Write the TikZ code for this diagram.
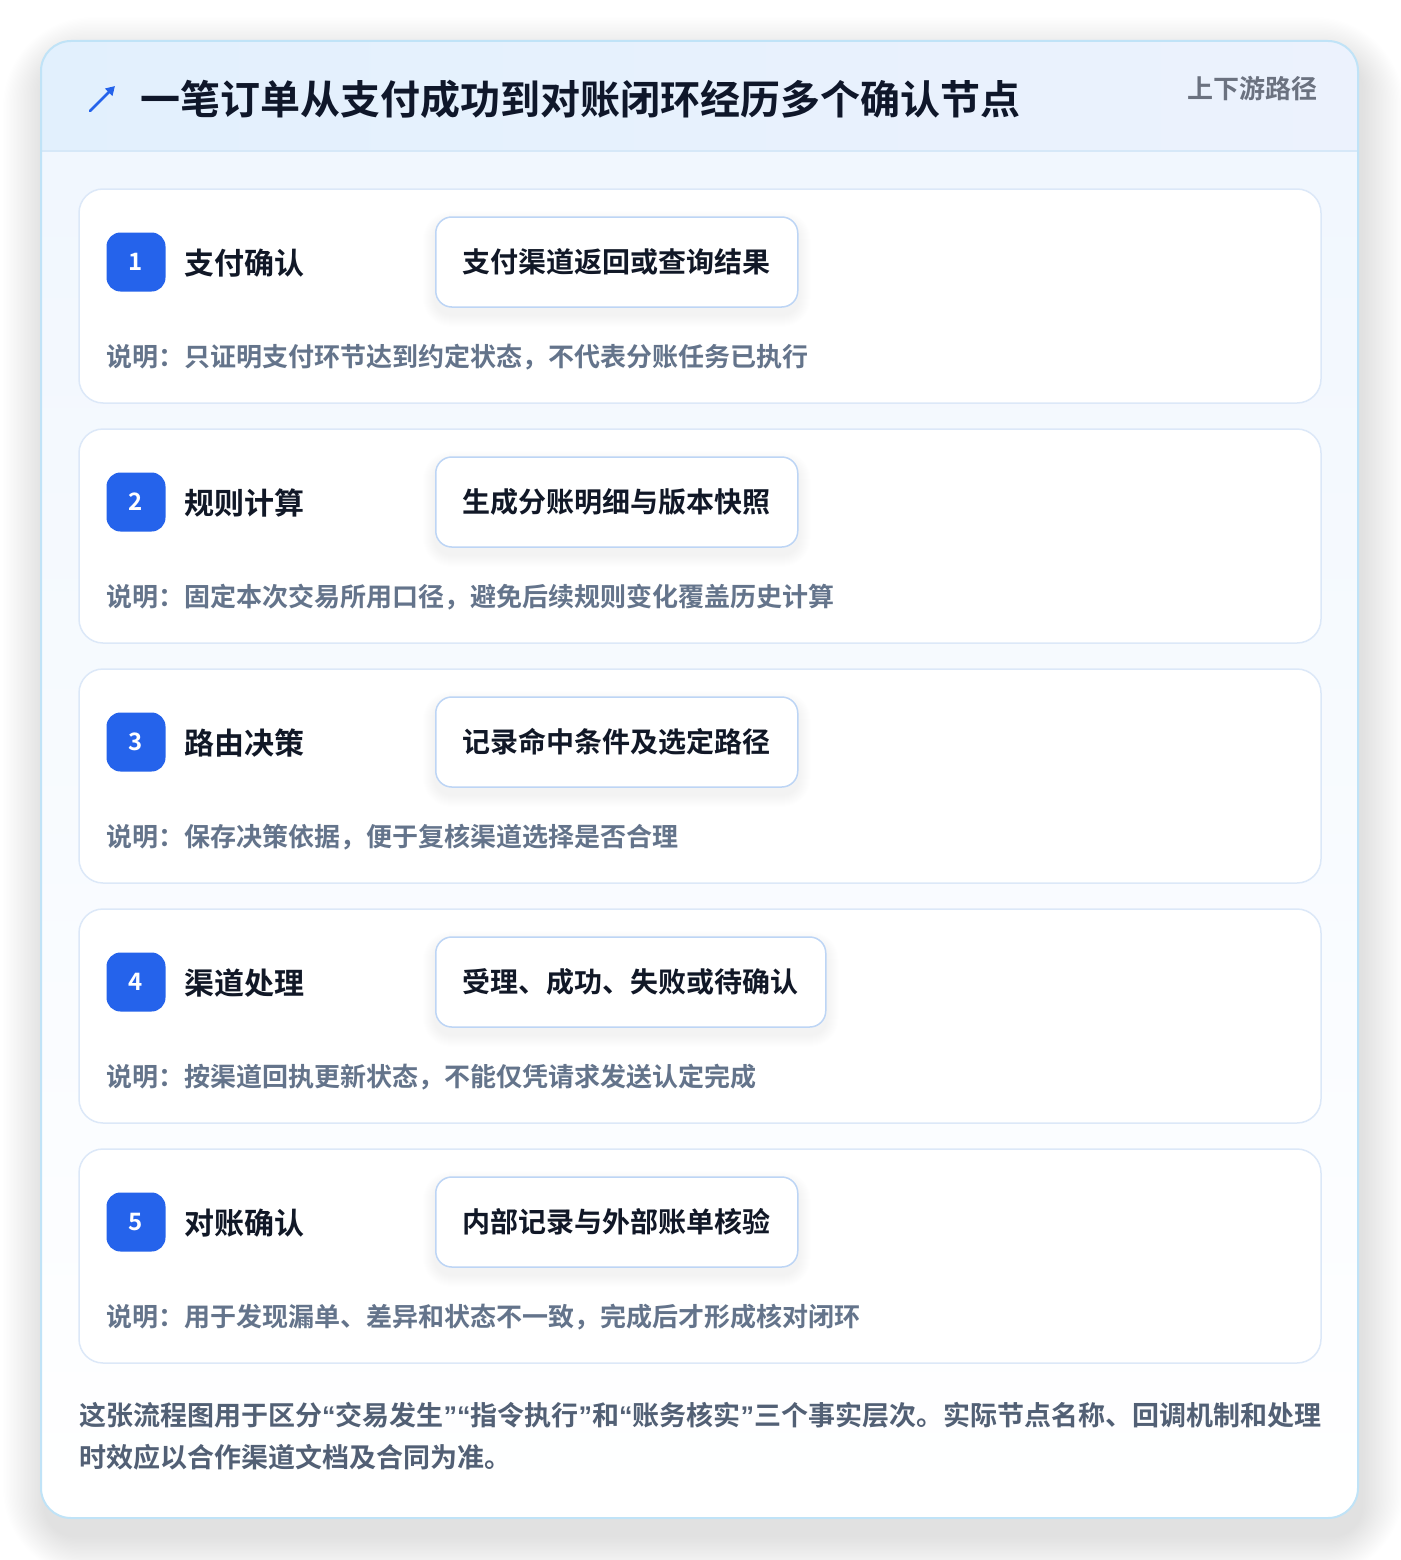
\documentclass[tikz,border=0pt]{standalone}
\usepackage{fontspec}
\usetikzlibrary{arrows.meta}
\newfontfamily\cjk{Noto Sans CJK SC Bold}
\newfontfamily\qf{Liberation Sans Bold}
\newcommand{\myLQ}{{\qf “}}
\newcommand{\myRQ}{{\qf ”}}
\definecolor{pagebg}{HTML}{FFFFFF}
\definecolor{cardline}{HTML}{C0E3F7}
\definecolor{headl}{HTML}{E2F0FD}
\definecolor{headr}{HTML}{ECF2FD}
\definecolor{headline}{HTML}{D6E8F8}
\definecolor{bodytop}{HTML}{F1F7FE}
\definecolor{stepline}{HTML}{DCE8F8}
\definecolor{boxline}{HTML}{BDD5F5}
\definecolor{badge}{HTML}{2563EB}
\definecolor{titlec}{HTML}{0F172A}
\definecolor{darktext}{HTML}{111827}
\definecolor{desctext}{HTML}{64748B}
\definecolor{foottext}{HTML}{526075}
\definecolor{tagtext}{HTML}{6B7280}
\definecolor{arrowc}{HTML}{2563EB}
\tikzset{
  txt/.style={inner sep=0pt, font=\cjk},
  stepcard/.style={draw=stepline, line width=1.5pt, fill=white, rounded corners=24pt},
  badgebox/.style={fill=badge, rounded corners=14pt, minimum width=59pt, minimum height=59pt, inner sep=0pt, text=white, font=\cjk\fontsize{24}{28}\selectfont},
  steptitle/.style={txt, anchor=west, text=darktext, font=\cjk\fontsize{30}{36}\selectfont},
  resultbox/.style={draw=boxline, line width=1.5pt, fill=white, rounded corners=16pt, minimum height=90pt, inner xsep=27pt, inner ysep=0pt, anchor=west, text=darktext, font=\cjk\fontsize{28}{34}\selectfont},
  desc/.style={txt, anchor=west, text=desctext, font=\cjk\fontsize{26}{32}\selectfont},
  foot/.style={txt, anchor=west, text=foottext, font=\cjk\fontsize{27}{32}\selectfont},
}
\begin{document}
\begin{tikzpicture}[x=1pt,y=-1pt]
\useasboundingbox (0,0) rectangle (1400,1560);
\fill[pagebg] (0,0) rectangle (1400,1560);
% soft shadow of the outer card
\foreach \k in {2,4,...,60}{
  \fill[black, opacity=0.0026, rounded corners=30pt+\k pt] (41-\k*0.7+4,41-\k*0.7+18) rectangle (1358+\k*0.7+4,1518+\k*0.7+18);
}
\fill[white, rounded corners=30pt] (41,41) rectangle (1358,1518);
\begin{scope}
  \clip[rounded corners=30pt] (41,41) rectangle (1358,1518);
  \shade[top color=bodytop, bottom color=white] (41,151) rectangle (1358,1518);
  \shade[left color=headl, right color=headr] (41,41) rectangle (1358,151);
  \draw[headline, line width=1.5pt] (41,151) -- (1358,151);
\end{scope}
\draw[cardline, line width=2pt, rounded corners=30pt] (41,41) rectangle (1358,1518);

% header
\coordinate (iconA) at (90,111);
\coordinate (iconB) at (115,86);
\draw[arrowc, line width=2.8pt, line cap=round, -{Triangle[length=9pt,width=10pt]}] (iconA) -- (iconB);
\node[txt, anchor=west, text=titlec, font=\cjk\fontsize{40}{48}\selectfont] (title) at (140,99) {一笔订单从支付成功到对账闭环经历多个确认节点};
\node[txt, anchor=east, text=tagtext, font=\cjk\fontsize{26}{32}\selectfont] (tag) at (1318,89) {上下游路径};

% steps
\foreach \i/\top/\name/\res/\note in {
  1/189/支付确认/支付渠道返回或查询结果/说明：只证明支付环节达到约定状态，不代表分账任务已执行,
  2/429/规则计算/生成分账明细与版本快照/说明：固定本次交易所用口径，避免后续规则变化覆盖历史计算,
  3/669/路由决策/记录命中条件及选定路径/说明：保存决策依据，便于复核渠道选择是否合理,
  4/909/渠道处理/受理、成功、失败或待确认/说明：按渠道回执更新状态，不能仅凭请求发送认定完成,
  5/1149/对账确认/内部记录与外部账单核验/说明：用于发现漏单、差异和状态不一致，完成后才形成核对闭环}
{
  \draw[stepcard] (79,\top) rectangle (1321,\top+214);
  \node[badgebox] (badge\i) at (136,\top+73) {\i};
  \node[steptitle] (name\i) at (184,\top+74) {\name};
  \node[resultbox, opacity=0] (ghost\i) at (435,\top+73) {\res};
  \foreach \k in {1,...,12}{
    \fill[black, opacity=0.005, rounded corners=16pt+\k pt]
      ([xshift=-\k pt, yshift=\k pt-7pt]ghost\i.north west) rectangle ([xshift=\k pt, yshift=-\k pt-7pt]ghost\i.south east);
  }
  \node[resultbox] (res\i) at (435,\top+73) {\res};
  \node[desc] (note\i) at (106,\top+168) {\note};
}

% footer
\node[foot] (foot1) at (79,1415) {这张流程图用于区分\myLQ 交易发生\myRQ\myLQ 指令执行\myRQ 和\myLQ 账务核实\myRQ 三个事实层次。实际节点名称、回调机制和处理};
\node[foot] (foot2) at (79,1457) {时效应以合作渠道文档及合同为准。};
\end{tikzpicture}
\end{document}
